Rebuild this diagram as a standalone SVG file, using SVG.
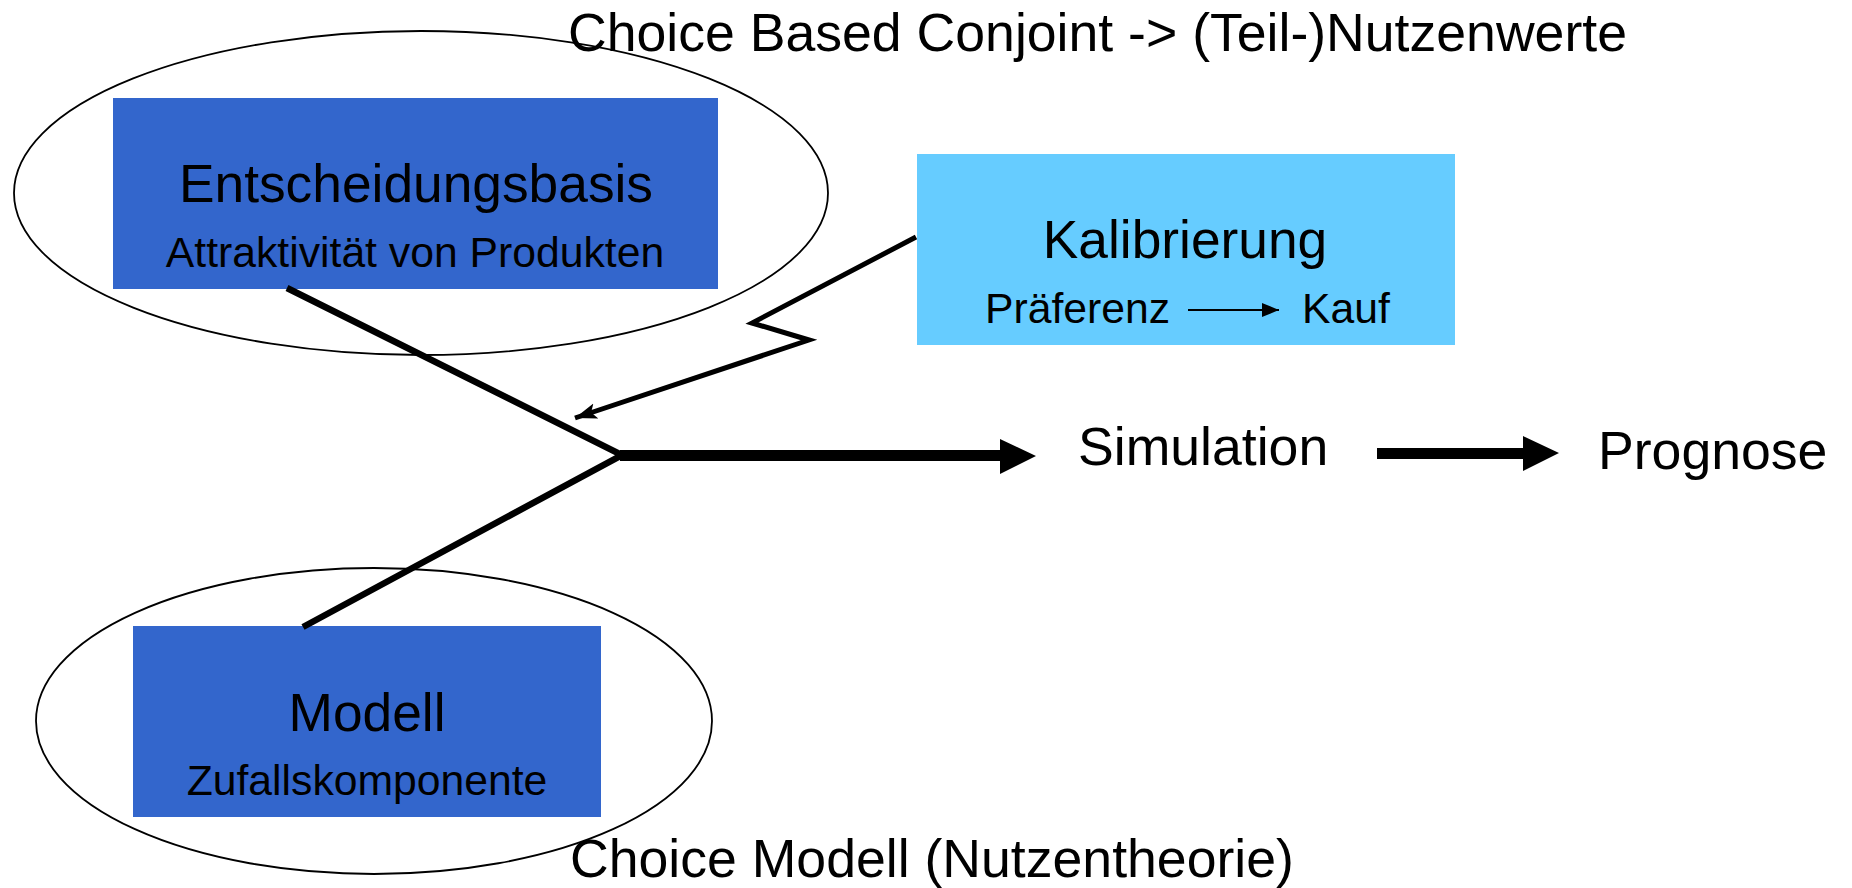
<svg xmlns="http://www.w3.org/2000/svg" width="1852" height="888" viewBox="0 0 1852 888">
  <style>
    text { font-family: "Liberation Sans", Arial, sans-serif; fill: #000; }
    .big { font-size: 53.6px; }
    .head { font-size: 53.3px; text-anchor: middle; }
    .sub { font-size: 42.7px; }
    .mid { text-anchor: middle; }
    .ring { fill: none; stroke: #000; stroke-width: 1.8; }
    .dark { fill: #3366CC; }
    .light { fill: #66CCFF; }
    .bar { fill: none; stroke: #000; stroke-width: 6.5; stroke-linecap: butt; }
    .bolt { fill: none; stroke: #000; stroke-width: 5; stroke-linejoin: miter; }
  </style>
  <defs>
    <marker id="tip" markerUnits="userSpaceOnUse" markerWidth="24" markerHeight="18" refX="22" refY="8" orient="auto">
      <path d="M0,0 L22,8 L0,16 L5,8 Z" fill="#000"/>
    </marker>
    <marker id="tipSmall" markerUnits="userSpaceOnUse" markerWidth="18" markerHeight="16" refX="17" refY="7" orient="auto">
      <path d="M0,0 L17,7 L0,14 Z" fill="#000"/>
    </marker>
  </defs>

  <rect width="1852" height="888" fill="#fff"/>

  <!-- captions -->
  <text class="big" x="568" y="51">Choice Based Conjoint -&gt; (Teil-)Nutzenwerte</text>
  <text class="big" x="570" y="877">Choice Modell (Nutzentheorie)</text>

  <g id="entscheidungsbasis">
    <ellipse class="ring" cx="421" cy="193" rx="407" ry="162"/>
    <rect class="dark" x="113" y="98" width="605" height="191"/>
    <text class="head" x="416" y="202">Entscheidungsbasis</text>
    <text class="sub mid" x="415" y="267">Attraktivität von Produkten</text>
  </g>

  <g id="modell">
    <ellipse class="ring" cx="374" cy="721" rx="338" ry="153"/>
    <rect class="dark" x="133" y="626" width="468" height="191"/>
    <text class="head" x="367" y="731">Modell</text>
    <text class="sub mid" x="367" y="795">Zufallskomponente</text>
  </g>

  <g id="kalibrierung">
    <rect class="light" x="917" y="154" width="538" height="191"/>
    <text class="head" x="1185" y="258">Kalibrierung</text>
    <text class="sub" x="985" y="323">Präferenz</text>
    <line x1="1188" y1="310" x2="1279" y2="310" stroke="#000" stroke-width="2" marker-end="url(#tipSmall)"/>
    <text class="sub" x="1302" y="323">Kauf</text>
  </g>

  <g id="simulation">
    <text class="big" x="1078" y="465">Simulation</text>
  </g>

  <g id="prognose">
    <text class="big" x="1598" y="469">Prognose</text>
  </g>

  <g id="connectors">
    <!-- two inputs merging into one -->
    <polyline class="bar" points="287,288 622,455 303,627"/>
    <!-- merged flow into Simulation -->
    <polygon points="620,450 1000,450 1000,439 1036,456 1000,474 1000,461 620,461" fill="#000"/>
    <!-- Simulation to Prognose -->
    <polygon points="1377,448 1523,448 1523,436 1559,453 1523,471 1523,459 1377,459" fill="#000"/>
    <!-- calibration zig-zag -->
    <polyline class="bolt" points="916,237 752,323 809,340 575,418" marker-end="url(#tip)"/>
  </g>
</svg>
